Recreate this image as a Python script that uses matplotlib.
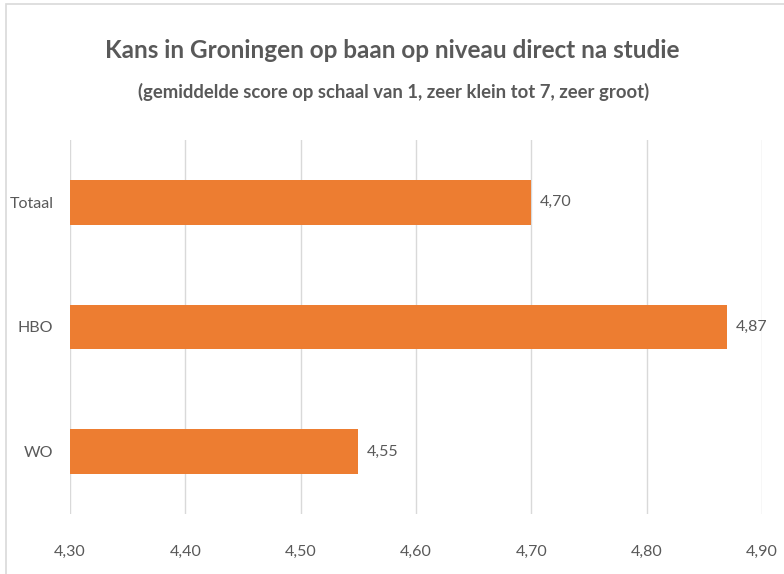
import matplotlib.pyplot as plt
from matplotlib.patches import Rectangle

categories = ['Totaal', 'HBO', 'WO']
scores = [4.70, 4.87, 4.55]
xticks = [4.30, 4.40, 4.50, 4.60, 4.70, 4.80, 4.90]

title = 'Kans in Groningen op baan op niveau direct na studie'
subtitle = '(gemiddelde score op schaal van 1, zeer klein tot 7, zeer groot)'

plt.rcParams['font.family'] = ['Lato', 'DejaVu Sans']
grey = '#595959'

fig = plt.figure(figsize=(7.84, 5.74), dpi=100)
ax = fig.add_axes([70 / 784, 1 - 514 / 574, 692 / 784, 374 / 574])

# outer chart frame
fig.patches.append(Rectangle((6 / 784, -0.1), 1.2, 1 - 4 / 574 + 0.1,
                             transform=fig.transFigure, fill=False,
                             edgecolor='#D9D9D9', linewidth=1.2))

ypos = range(len(categories))
ax.barh(ypos, [s - 4.30 for s in scores], left=4.30, height=0.36,
        color='#ED7D31', zorder=3)

for y, s in zip(ypos, scores):
    ax.text(s + 0.007, y, f'{s:.2f}'.replace('.', ','), va='center', ha='left',
            fontsize=11.5, color=grey)

ax.set_xlim(4.30, 4.90)
ax.set_ylim(2.5, -0.5)
ax.set_yticks(list(ypos))
ax.set_yticklabels(categories)
ax.set_xticks(xticks)
ax.set_xticklabels([f'{t:.2f}'.replace('.', ',') for t in xticks])
ax.tick_params(axis='both', length=0, labelsize=11.5, colors=grey)
ax.tick_params(axis='x', pad=22)
ax.tick_params(axis='y', pad=12)
ax.grid(axis='x', color='#D9D9D9', linewidth=1, zorder=0)
for sp in ax.spines.values():
    sp.set_visible(False)

fig.text(392 / 784, 1 - 50 / 574, title, ha='center', va='center',
         fontsize=17.5, fontweight='bold', color=grey)
fig.text(394 / 784, 1 - 92 / 574, subtitle, ha='center', va='center',
         fontsize=13.3, fontweight='bold', color=grey)

fig.savefig('out.png', dpi=100)
